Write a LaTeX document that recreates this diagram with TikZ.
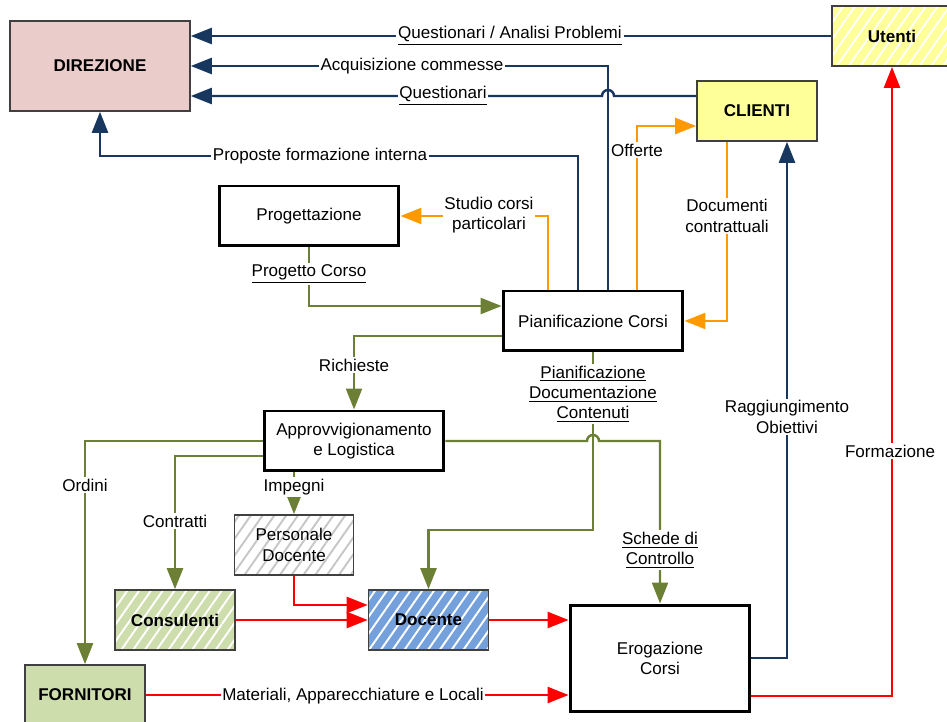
\documentclass[tikz,border=0pt]{standalone}
\usepackage{fontspec}
\setmainfont{Liberation Sans}
\usetikzlibrary{arrows.meta,patterns.meta}
\definecolor{linkblue}{RGB}{23,55,94}
\definecolor{linkgreen}{RGB}{107,128,52}
\definecolor{linkorange}{RGB}{255,153,0}
\definecolor{linkred}{RGB}{255,0,0}
\definecolor{dirpink}{RGB}{234,204,203}
\definecolor{cliyellow}{RGB}{255,255,153}
\definecolor{consgreen}{RGB}{205,221,172}
\definecolor{docblue}{RGB}{116,160,220}

\begin{document}
\begin{tikzpicture}[x=0.02cm,y=-0.02cm,
  font=\fontsize{9.7}{11.5}\selectfont,
  proc/.style={draw=black,line width=1.7pt,fill=white,minimum width=3.6cm,minimum height=1.2cm,align=center},
  ent/.style={draw=black!75,line width=0.9pt,minimum width=2.4cm,minimum height=1.2cm,align=center,font=\fontsize{9.7}{11.5}\selectfont\bfseries},
  hatch/.style={preaction={fill=#1},pattern={Lines[angle=55,distance=5.5pt,line width=1.1pt]},pattern color=white},
  link/.style={line width=1.4pt,-{Triangle[length=0.42cm,width=0.32cm]}},
  lbl/.style={fill=white,inner sep=1pt,align=center}]

\useasboundingbox (0,0) rectangle (947,722);

% boxes
\node[ent,fill=dirpink,minimum width=3.6cm,minimum height=1.8cm] (dir) at (100,66) {DIREZIONE};
\node[ent,hatch=cliyellow] (ute) at (892,36) {Utenti};
\node[ent,fill=cliyellow] (cli) at (757,111) {CLIENTI};
\node[proc] (prog) at (309,216) {Progettazione};
\node[proc] (pian) at (593,321) {Pianificazione Corsi};
\node[proc] (appr) at (354,441) {Approvvigionamento\\e Logistica};
\node[ent,hatch=white,pattern color=black!22,font=\fontsize{9.7}{11.5}\selectfont,minimum width=2.38cm] (pd) at (294,545) {Personale\\Docente};
\node[ent,hatch=consgreen] (cons) at (175,620) {Consulenti};
\node[ent,hatch=docblue] (doc) at (428.5,620) {Docente};
\node[ent,fill=consgreen] (forn) at (85,695) {FORNITORI};
\node[proc,minimum height=2.14cm] (erog) at (660,658.5) {Erogazione\\Corsi};

% blue links
\draw[link,linkblue] (ute.west) -- (dir.east |- ute.west);
\draw[link,linkblue] (pian.north -| 608,0) |- (dir.east);
\draw[link,linkblue] (cli.north west |- 0,96) -- (614,96) arc (0:180:0.12cm) -- (dir.east |- 0,96);
\draw[link,linkblue] (pian.north -| 578,0) |- (dir.south |- 0,156) -- (dir.south);
\draw[link,linkblue] (erog.east |- 0,658) -| (cli.south -| 787,0);

% orange links
\draw[link,linkorange] (pian.north -| 637,0) |- (cli.west |- 0,126);
\draw[link,linkorange] (cli.south -| 727,0) |- (pian.east);
\draw[link,linkorange] (pian.north -| 548,0) |- (prog.east);

% green links
\draw[link,linkgreen] (prog.south) |- (pian.west |- 0,306);
\draw[link,linkgreen] (pian.west |- 0,336) -| (appr.north);
\draw[link,linkgreen] (pian.south) |- (doc.north |- 0,530) -- (doc.north);
\draw[link,linkgreen] (appr.east) -- (587,441) arc (180:0:0.12cm) -- (erog.north |- appr.east) -- (erog.north);
\draw[link,linkgreen] (appr.west) -| (forn.north);
\draw[link,linkgreen] (appr.west |- 0,456) -| (cons.north);
\draw[link,linkgreen] (appr.south -| pd.north) -- (pd.north);

% red links
\draw[link,linkred] (pd.south) |- (doc.west |- 0,605);
\draw[link,linkred] (cons.east) -- (doc.west);
\draw[link,linkred] (doc.east) -- (erog.west |- doc.east);
\draw[link,linkred] (forn.east) -- (erog.west |- forn.east);
\draw[link,linkred] (erog.east |- 0,696) -| (ute.south);

% labels
\node[lbl] (lque) at (510,36) {\underline{Questionari / Analisi Problemi}};
\node[lbl] (lacq) at (412,66) {Acquisizione commesse};
\node[lbl] (lqst) at (443,96) {\underline{Questionari}};
\node[lbl] (lprop) at (320,156) {Proposte formazione interna};
\node[lbl] (loff) at (637,150) {Offerte};
\node[lbl] (ldoc) at (727,216) {Documenti\\contrattuali};
\node[lbl] (lstu) at (489,215) {Studio corsi\\particolari};
\node[lbl] (lprg) at (309,274) {\underline{Progetto Corso}};
\node[lbl] (lric) at (354,365) {Richieste};
\node[lbl] (lpdc) at (593,394) {\underline{Pianificazione}\\\underline{Documentazione}\\\underline{Contenuti}};
\node[lbl] (lsch) at (660,550) {\underline{Schede di}\\\underline{Controllo}};
\node[lbl] (lord) at (85,485) {Ordini};
\node[lbl] (lcon) at (175,521) {Contratti};
\node[lbl] (limp) at (294,487) {Impegni};
\node[lbl] (lrag) at (787,417) {Raggiungimento\\Obiettivi};
\node[lbl] (lfor) at (890,451) {Formazione};
\node[lbl] (lmat) at (353,696) {Materiali, Apparecchiature e Locali};
\end{tikzpicture}
\end{document}
